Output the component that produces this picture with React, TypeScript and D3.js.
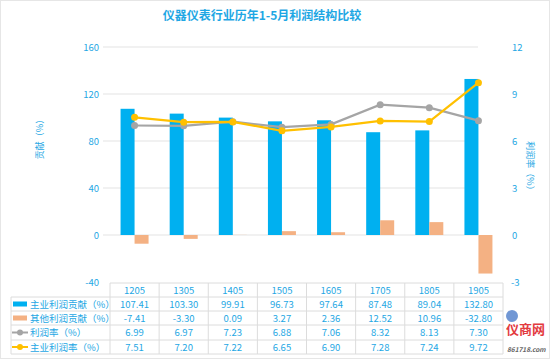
import React from "react";
import * as d3 from "d3";

const categories = ["1205", "1305", "1405", "1505", "1605", "1705", "1805", "1905"];
const mainContribution = [107.41, 103.3, 99.91, 96.73, 97.64, 87.48, 89.04, 132.8];
const otherContribution = [-7.41, -3.3, 0.09, 3.27, 2.36, 12.52, 10.96, -32.8];
const profitRate = [6.99, 6.97, 7.23, 6.88, 7.06, 8.32, 8.13, 7.3];
const mainProfitRate = [7.51, 7.2, 7.22, 6.65, 6.9, 7.28, 7.24, 9.72];
const leftTicks = [160, 120, 80, 40, 0, -40];
const rightTicks = [12, 9, 6, 3, 0, -3];
const seriesNames = ["主业利润贡献（%）", "其他利润贡献（%）", "利润率（%）", "主业利润率（%）"];

const BLUE = "#00b0f0";
const ORANGE = "#f4b183";
const GRAY = "#a5a5a5";
const YELLOW = "#ffc000";
const TEXT = "#1ea7e4";
const FONT = "'Noto Sans CJK SC', 'Noto Sans', sans-serif";

export default function App() {
  const W = 550, H = 359;
  const tableLeft = 110, tableRight = 503;
  const x = d3.scaleBand<string>().domain(categories).range([tableLeft, tableRight]);
  const yL = d3.scaleLinear().domain([-40, 160]).range([282, 47]);
  const yR = d3.scaleLinear().domain([-3, 12]).range([282, 47]);
  const bw = 14;
  const cx = (c: string) => (x(c) as number) + x.bandwidth() / 2;

  const lineR = d3.line<number>().x((_, i) => cx(categories[i])).y((v) => yR(v));

  const rowTop = [283, 297, 311, 325, 340, 354];
  const legendLeft = 11;
  const fmt = (v: number) => v.toFixed(2);
  const rows = [mainContribution, otherContribution, profitRate, mainProfitRate];

  return (
    <div style={{ position: "absolute", left: 0, top: 0 }}>
      <svg width={W} height={H} style={{ display: "block", fontFamily: FONT }}>
        <rect x={0} y={0} width={W} height={H} fill="#fff" />
        <rect x={0.5} y={0.5} width={W - 1} height={H - 1} fill="none" stroke="#e6e6e6" />
        <text x={262} y={20} textAnchor="middle" fontSize={12} fontWeight="bold" fill={TEXT}>
          仪器仪表行业历年1-5月利润结构比较
        </text>

        {leftTicks.filter((t) => t > -40).map((t) => (
          <line key={"g" + t} x1={103} x2={478} y1={yL(t)} y2={yL(t)} stroke="#e3e3e3" strokeWidth={1} />
        ))}
        {leftTicks.map((t) => (
          <text key={"l" + t} x={99} y={yL(t) + 3.5} textAnchor="end" fontSize={9.5} fill={TEXT}>
            {t}
          </text>
        ))}
        {rightTicks.map((t) => (
          <text key={"r" + t} x={t < 0 ? 511 : 512} y={yR(t) + 3.5} textAnchor="start" fontSize={9.5} fill={TEXT}>
            {t}
          </text>
        ))}
        <text transform="translate(43,137) rotate(-90)" textAnchor="middle" fontSize={9} fill={TEXT}>
          贡献（%）
        </text>
        <text transform="translate(527,168) rotate(90)" textAnchor="middle" fontSize={9} fill={TEXT}>
          利润率（%）
        </text>

        {categories.map((c, i) => {
          const v = mainContribution[i];
          return (
            <rect key={"b" + c} x={cx(c) - bw} y={yL(Math.max(0, v))} width={bw}
              height={Math.abs(yL(v) - yL(0))} fill={BLUE} />
          );
        })}
        {categories.map((c, i) => {
          const v = otherContribution[i];
          return (
            <rect key={"o" + c} x={cx(c)} y={yL(Math.max(0, v))} width={bw}
              height={Math.abs(yL(v) - yL(0))} fill={ORANGE} />
          );
        })}

        <path d={lineR(profitRate) as string} fill="none" stroke={GRAY} strokeWidth={2.2} />
        {profitRate.map((v, i) => (
          <circle key={"pg" + i} cx={cx(categories[i])} cy={yR(v)} r={3.5} fill={GRAY} />
        ))}
        <path d={lineR(mainProfitRate) as string} fill="none" stroke={YELLOW} strokeWidth={2.2} />
        {mainProfitRate.map((v, i) => (
          <circle key={"py" + i} cx={cx(categories[i])} cy={yR(v)} r={3.5} fill={YELLOW} />
        ))}

        {/* data table */}
        <g stroke="#dcdcdc" strokeWidth={1} fill="none">
          <line x1={tableLeft} x2={tableRight} y1={rowTop[0]} y2={rowTop[0]} />
          {rowTop.slice(1).map((y) => (
            <line key={"h" + y} x1={legendLeft} x2={tableRight} y1={y} y2={y} />
          ))}
          <line x1={legendLeft} x2={legendLeft} y1={rowTop[1]} y2={rowTop[5]} />
          {categories.map((c) => (
            <line key={"v" + c} x1={x(c) as number} x2={x(c) as number} y1={rowTop[0]} y2={rowTop[5]} />
          ))}
          <line x1={tableRight} x2={tableRight} y1={rowTop[0]} y2={rowTop[5]} />
        </g>
        {categories.map((c) => (
          <text key={"hc" + c} x={cx(c)} y={rowTop[0] + 10.5} textAnchor="middle" fontSize={9.5} fill={TEXT}>
            {c}
          </text>
        ))}
        {rows.map((r, ri) =>
          r.map((v, i) => (
            <text key={"t" + ri + "-" + i} x={cx(categories[i])} y={rowTop[ri + 1] + 10.5}
              textAnchor="middle" fontSize={9.5} fill={TEXT}>
              {fmt(v)}
            </text>
          ))
        )}
        {seriesNames.map((n, ri) => {
          const ym = (rowTop[ri + 1] + rowTop[ri + 2]) / 2;
          return (
            <g key={"lg" + ri}>
              {ri === 0 && <rect x={13} y={ym - 2.5} width={14} height={5} fill={BLUE} />}
              {ri === 1 && <rect x={13} y={ym - 2.5} width={14} height={5} fill={ORANGE} />}
              {ri === 2 && (
                <g>
                  <line x1={12} x2={28} y1={ym} y2={ym} stroke={GRAY} strokeWidth={2} />
                  <circle cx={20} cy={ym} r={3} fill={GRAY} />
                </g>
              )}
              {ri === 3 && (
                <g>
                  <line x1={12} x2={28} y1={ym} y2={ym} stroke={YELLOW} strokeWidth={2} />
                  <circle cx={20} cy={ym} r={3} fill={YELLOW} />
                </g>
              )}
              <text x={30} y={ym + 3.5} fontSize={9.5} fill={TEXT}>
                {n}
              </text>
            </g>
          );
        })}

        {/* watermark, kept just right of the table */}
        <g opacity={0.9}>
          <circle cx={512} cy={316} r={6} fill="#3b6fc4" opacity={0.8} />
          <text x={506} y={334} fontSize={13} fontWeight="bold" fill="#e0262b">仪商网</text>
          <text x={507} y={352} fontSize={6.5} fontStyle="italic" fontWeight="bold" fill="#555">861718.com</text>
        </g>
      </svg>
    </div>
  );
}
